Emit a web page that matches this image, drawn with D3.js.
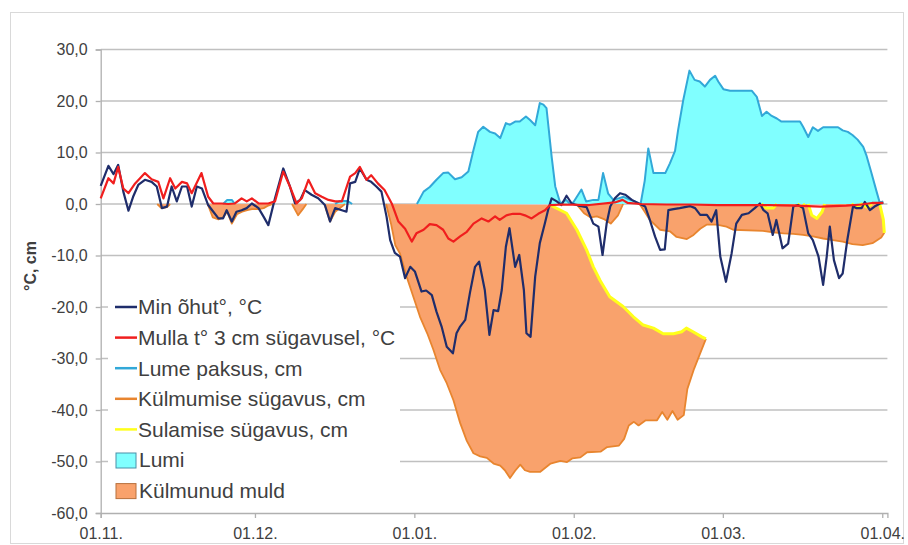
<!DOCTYPE html>
<html>
<head>
<meta charset="utf-8">
<script src="https://cdn.jsdelivr.net/npm/d3@7"></script>
<style>
  body { margin: 0; background: #fff; }
  svg { font-family: "Liberation Sans", Arial, sans-serif; }
</style>
</head>
<body>
<div id="chart"></div>
<script>
// day offsets counted from 01.11. (winter 2011/2012)
const monthTicks = ["2011-11-01", "2011-12-01", "2012-01-01", "2012-02-01", "2012-03-01", "2012-04-01"];
const yTicks = [-60, -50, -40, -30, -20, -10, 0, 10, 20, 30];

const airMin = [[0,3.5],[1.5,7.4],[2.5,5.8],[3.4,7.6],[4.4,2.4],[5.4,-1.3],[6.3,1.4],[7.3,3.7],[8.6,4.7],[9.9,4.3],[10.9,3.4],[11.9,-0.8],[12.9,-0.5],[13.8,3.4],[14.8,0.5],[15.8,3.4],[16.8,3.4],[17.7,-0.5],[18.7,3.4],[19.7,3.0],[20.9,-0.2],[21.9,-1.5],[22.9,-2.8],[23.8,-2.8],[24.5,-1.2],[25.5,-3.4],[26.4,-1.5],[27.4,-1.2],[28.4,-0.8],[29.4,0.1],[30.7,-0.8],[31.7,-2.5],[32.6,-4.1],[33.9,1.1],[35.5,6.9],[36.8,3.4],[37.8,0.1],[38.8,0.8],[39.7,2.7],[41,1.8],[42.3,1.1],[43.6,-0.2],[44.6,-3.4],[45.6,-0.8],[46.9,-1.2],[47.8,-1.5],[48.5,4.0],[49.5,4.3],[50.4,6.9],[51.7,4.7],[52.6,4.3],[53.6,3.4],[54.6,2.4],[55.6,-2.5],[56.3,-7],[57.2,-9.5],[58.2,-10.2],[59.2,-14.4],[60.2,-12.2],[61.1,-13.1],[62.4,-17],[63.3,-16.8],[64.4,-17.7],[65.3,-20.9],[66.3,-23.8],[67.3,-27.7],[68.5,-29],[69.2,-25.1],[69.9,-23.8],[70.9,-22.5],[71.8,-17.3],[72.8,-12.2],[73.6,-11.2],[74.7,-16.7],[75.6,-25.4],[76.4,-20.6],[77.3,-20.8],[78,-16.7],[78.8,-8.3],[79.5,-4.7],[80.6,-12.2],[81.4,-9.9],[82.3,-16.7],[82.8,-25.1],[83.6,-25.8],[84.5,-14.1],[85.4,-7.6],[86.4,-3.7],[87,-1.2],[87.7,1.1],[88.7,0.5],[89.6,-0.2],[90.6,1.6],[91.6,0.1],[92.9,-0.3],[94.5,-0.6],[95.8,-3.8],[96.8,-4.4],[97.6,-9.9],[98.4,-3.8],[99.1,-0.5],[100,1.1],[101,2.1],[102,1.8],[103.3,0.8],[104.6,0.1],[105.9,-0.5],[106.8,-3.1],[107.8,-6.3],[108.8,-8.9],[109.7,-8.8],[110.4,-1.2],[111.4,-1.0],[112.6,-0.8],[114.6,-0.4],[115.6,-0.8],[116.6,-2.1],[117.9,-2.1],[118.8,-3.4],[119.7,-1.2],[120.5,-10.2],[121.6,-15.1],[122.7,-9.6],[123.6,-3.8],[124.7,-2.1],[126,-1.8],[127.2,-0.8],[128.2,0.1],[128.9,-1.2],[129.7,-1.8],[130.7,-6.0],[131.4,-3.1],[132.6,-8.6],[133.7,-7.7],[134.7,-0.5],[135.6,-0.2],[136.6,-0.8],[137.6,-5.7],[138.5,-7.0],[139.6,-10.2],[140.5,-15.7],[141.2,-10.2],[141.8,-4.4],[142.6,-10.9],[143.6,-14.4],[144.3,-13.5],[145.2,-7.0],[146.3,-0.5],[147,-0.8],[148,-0.8],[148.6,0.4],[149.6,-1.2],[150.5,-0.5],[151.6,0.1],[152.2,0.2]];

const soil3cm = [[0,1.1],[1.5,5.0],[2.5,4.0],[3.4,7.2],[4.4,3.0],[5.4,2.1],[6.7,4.0],[8.6,6.0],[9.9,4.8],[11.2,4.3],[12.2,1.1],[13.5,5.0],[14.5,3.0],[15.8,4.3],[16.8,4.0],[17.7,2.1],[19.6,6.0],[20.9,1.4],[21.9,0.1],[23.5,0.1],[24.8,0],[26.1,0.1],[27.4,1.1],[28.4,0.5],[29.4,1.1],[30.7,0.1],[32.6,0.1],[33.9,0.5],[35.5,6.3],[36.8,3.4],[38.1,0.1],[39.1,1.1],[40.4,4.7],[41.7,2.1],[43,1.4],[44.3,0.8],[45.6,0.5],[46.9,0.5],[48.5,5.3],[49.5,6.0],[50.4,7.2],[51.7,4.7],[52.6,5.6],[53.9,4.0],[55.2,2.7],[56.6,0.1],[57.9,-3.4],[59.2,-4.8],[60.5,-7.3],[61.4,-5.7],[62.8,-5.0],[64,-3.9],[65.3,-4.1],[66.6,-5.0],[67.6,-6.7],[68.6,-7.3],[69.9,-6.3],[71.2,-5.4],[72.5,-3.8],[74.1,-2.8],[75.4,-3.4],[76.7,-2.4],[77.6,-3.1],[78.9,-2.2],[80.2,-1.9],[81.5,-1.9],[82.5,-2.2],[83.8,-2.8],[85.1,-1.9],[86.4,-1.2],[87.4,-0.2],[90,-0.1],[95,-0.2],[100,0.3],[101.5,0.8],[102.5,0.2],[105,0],[110,-0.1],[115,-0.1],[120,-0.2],[125,-0.2],[130,-0.2],[135,-0.3],[140,-0.5],[145,-0.3],[148,-0.1],[150,0.2],[152.2,0.2]];

// null = no snow cover
const snowDepth = [[23.8,0],[24.6,0.8],[25.5,0.8],[26.1,0],null,[45.6,0],[46.5,0.6],[48,0.6],[48.9,0],null,[61.5,0],[62.8,2.4],[64,3.3],[65.3,4.7],[66.6,6.0],[67.6,6.1],[68.9,4.8],[70.2,5.2],[71.5,6.3],[72.5,10.5],[73.4,14.0],[74.4,15],[75.7,14.0],[76.7,13.7],[77.7,12.8],[78.8,15.7],[79.6,15.4],[80.6,16.0],[81.5,16],[82.7,17],[83.5,16.3],[84.5,15.3],[85.4,19.6],[86.1,19.3],[86.7,18.6],[87.7,9.2],[88.4,3.4],[89.4,0.1],[90.5,0.8],[91.3,0],[91.9,0.3],[93.5,2.8],[94.4,0.5],[95.8,0.8],[96.8,0.8],[97.7,6.0],[98.7,2.0],[99.7,0.8],[100.7,1.1],[101.7,1.4],[103,0.8],[103.9,0.5],[105,0],[105.8,4.5],[106.5,10.8],[107.5,6.0],[109.8,6.0],[110.7,7.9],[111.7,10.3],[112.3,14.4],[113.3,20.2],[114.5,25.9],[115.5,24.1],[116.5,23.8],[117.5,22.8],[118.5,24.1],[119.5,24.9],[120.1,23.8],[121.1,22.3],[122.4,22],[126.6,22],[127.6,20.8],[128.6,17.1],[129.5,17.9],[130.5,17.1],[131.5,16.6],[132.4,16.0],[136,16],[136.6,15.0],[137.6,13.0],[138.5,14.9],[139.5,14.2],[140.5,14.9],[143.4,14.9],[144.3,14.3],[145.3,14.0],[146.2,13.4],[147.2,12.5],[148.3,11.1],[148.9,9.5],[149.9,6.0],[150.9,2.4],[151.5,0.3],[152.2,0.5]];

// frost depth, short early episodes (thaw depth 0)
const frostEarly = [[11,0],[11.8,-0.8],[12.9,-0.6],[13.5,0],null,[20.8,0],[21.8,-2.6],[22.9,-3.0],[23.8,-2.6],[24.6,-1.5],[25.5,-3.8],[26.5,-2.0],[27.5,-1.5],[28.5,-1.2],[29.4,-1.0],[30.7,-1.0],[31.7,-0.8],[32.6,-0.3],[33.5,0],null,[37.2,0],[38.4,-2.2],[39.3,-1.0],[40,0],null,[43.5,0],[44.6,-3.4],[45.6,-1.5],[46.9,-0.5],[47.5,0]];

// main frozen layer: frost depth and thaw depth from the surface
const frostDeep = [[55.5,0],[56.5,-4],[57.3,-8],[58.2,-9.6],[59.5,-14.1],[60.8,-18],[62.1,-21.9],[63.5,-25.1],[64.7,-28.3],[66,-32.2],[67.3,-34.8],[68.6,-38.1],[69.9,-42.5],[71.2,-46],[72.5,-48.4],[73.8,-49],[75.1,-49.3],[76.4,-50.4],[77.7,-50.8],[78.6,-51.7],[79.6,-53.2],[80.6,-51.8],[81.6,-50.6],[82.5,-51.7],[83.5,-52],[85.5,-52],[87.5,-50.4],[89.4,-49.9],[90.7,-50.1],[91.7,-49.4],[93.3,-49.2],[94.6,-48.2],[97.2,-48.1],[98.5,-47.2],[100.8,-46.9],[101.8,-45.6],[102.7,-43],[103.7,-42.3],[104.6,-43],[106,-42],[108.2,-42],[109.2,-40.4],[110.2,-41.9],[111.2,-40.2],[112.2,-41.9],[113.4,-41],[114.1,-35.9],[115.4,-32],[116.7,-28.7],[117.7,-26.2]];
const thawDeep = [[87.4,-0.2],[90.6,-1.8],[92.6,-5],[94.5,-8.9],[95.8,-12.2],[97.1,-14.8],[99,-18],[101.6,-19.9],[103.6,-21.9],[105.5,-23.5],[107.5,-24.1],[109.4,-25.2],[111.4,-25.2],[113,-24.8],[113.9,-24.1],[115.2,-24.8],[116.9,-25.8],[117.7,-26.2]];

// refrozen surface layer in February and March
const frostFeb = [[92.5,0],[94,-1.8],[95.3,-2.6],[96.5,-2.4],[98,-3.0],[99.2,-3.8],[100.6,-2.2],[101.6,0]];
const frostMar = [[104.8,0],[105.8,-1.5],[106.8,-3.1],[108.8,-5.0],[110.7,-5.3],[112,-6.4],[114,-6.8],[115.3,-6.0],[116.6,-4.8],[117.9,-4.0],[119.8,-4.0],[121.7,-4.4],[123,-5.0],[128.8,-5.2],[130.8,-5.5],[132.8,-5.7],[134.7,-5.8],[136.6,-6.0],[138.5,-6.3],[140.5,-6.7],[142.4,-7.0],[144.3,-7.3],[146.2,-7.8],[148.2,-8.0],[150.1,-7.6],[151.8,-6.5],[152.4,-5.6]];
const thawMar = [[128.5,0],[129.5,-0.8],[130.8,-0.8],[131.5,0],null,[135.5,0],[136.3,-0.6],[137,0],null,[137.6,0],[138.3,-2.2],[139.3,-2.8],[140.3,-1.5],[140.8,0],null,[146,0],[147,-0.5],[148,0],[149,-0.6],[150,0],null,[151.5,0],[152.2,-3],[152.4,-5.6]];

const legendItems = [
  {label: "Min õhut°, °C", type: "line", color: "#1f2d6b"},
  {label: "Mulla t° 3 cm sügavusel, °C", type: "line", color: "#f01e1e"},
  {label: "Lume paksus, cm", type: "line", color: "#32a8d8"},
  {label: "Külmumise sügavus, cm", type: "line", color: "#e8852f"},
  {label: "Sulamise sügavus, cm", type: "line", color: "#ffff1a"},
  {label: "Lumi", type: "box", color: "#80ffff", stroke: "#4a90a8"},
  {label: "Külmunud muld", type: "box", color: "#f9a26c", stroke: "#b8703c"}
];

const width = 908, height = 545;
const start = Date.UTC(2011, 10, 1);
const toDate = d => new Date(start + d * 864e5);

const svg = d3.select("#chart").append("svg")
  .attr("width", width)
  .attr("height", height);

// outer frame
svg.append("rect")
  .attr("x", 10.5).attr("y", 12.5)
  .attr("width", 893).attr("height", 531)
  .attr("fill", "#fff")
  .attr("stroke", "#d9d9d9");

const x = d3.scaleUtc()
  .domain([new Date(Date.UTC(2011, 10, 1)), new Date(Date.UTC(2012, 3, 2))])
  .range([100.7, 887.4]);
const y = d3.scaleLinear().domain([-60, 30]).range([513, 49.5]);

// grid
svg.append("g").selectAll("line")
  .data(yTicks.filter(d => d > -60))
  .enter().append("line")
  .attr("x1", x.range()[0]).attr("x2", x.range()[1])
  .attr("y1", d => y(d)).attr("y2", d => y(d))
  .attr("stroke", "#c0c0c0").attr("stroke-width", 1.3);

// axes
const yAxis = svg.append("g")
  .attr("transform", "translate(" + x.range()[0] + ",0)")
  .call(d3.axisLeft(y).tickValues(yTicks).tickSize(5).tickPadding(8)
    .tickFormat(d => d.toFixed(1).replace(".", ",")));
const xAxis = svg.append("g")
  .attr("transform", "translate(0," + y(-60) + ")")
  .call(d3.axisBottom(x).tickValues(monthTicks.map(d => new Date(d + "T00:00:00Z")))
    .tickSize(5).tickPadding(10).tickFormat(d3.utcFormat("%d.%m.")));
[yAxis, xAxis].forEach(g => {
  g.select(".domain").attr("stroke", "#b0b0b0").attr("stroke-width", 1.3);
  g.selectAll(".tick line").attr("stroke", "#b0b0b0").attr("stroke-width", 1.3);
  g.selectAll("text").attr("fill", "#404040").style("font-size", "16px")
    .style("font-family", "'Liberation Sans', Arial, sans-serif");
});

svg.append("text")
  .attr("transform", "translate(36,266) rotate(-90)")
  .attr("text-anchor", "middle")
  .attr("fill", "#404040")
  .style("font-size", "16px").style("font-weight", "bold")
  .text("°C, cm");

const line = d3.line()
  .defined(d => d !== null)
  .x(d => x(toDate(d[0])))
  .y(d => y(d[1]));
const area0 = d3.area()
  .defined(d => d !== null)
  .x(d => x(toDate(d[0])))
  .y0(y(0))
  .y1(d => y(d[1]));
const polygon = (top, bottom) => line(top.concat(bottom.slice().reverse())) + "Z";

// areas
svg.append("path").attr("d", area0(snowDepth)).attr("fill", "#80ffff");
svg.append("path").attr("d", area0(frostEarly)).attr("fill", "#f9a26c");
svg.append("path").attr("d", polygon([[55.5, 0]].concat(thawDeep), frostDeep)).attr("fill", "#f9a26c");
svg.append("path").attr("d", polygon([[92.5, 0], [101.6, 0]], frostFeb)).attr("fill", "#f9a26c");
svg.append("path").attr("d", polygon([[104.8, 0]].concat(thawMar.filter(d => d !== null)), frostMar)).attr("fill", "#f9a26c");

// frost and thaw lines
[frostEarly, frostDeep, frostFeb, frostMar].forEach(s => {
  svg.append("path").attr("d", line(s)).attr("fill", "none")
    .attr("stroke", "#e8852f").attr("stroke-width", 1.8).attr("stroke-linejoin", "round");
});
[thawDeep, thawMar].forEach(s => {
  svg.append("path").attr("d", line(s)).attr("fill", "none")
    .attr("stroke", "#ffff1a").attr("stroke-width", 3).attr("stroke-linejoin", "round");
});

svg.append("path").attr("d", line(snowDepth)).attr("fill", "none")
  .attr("stroke", "#32a8d8").attr("stroke-width", 2).attr("stroke-linejoin", "round");
svg.append("path").attr("d", line(airMin)).attr("fill", "none")
  .attr("stroke", "#1f2d6b").attr("stroke-width", 2.2).attr("stroke-linejoin", "round");
svg.append("path").attr("d", line(soil3cm)).attr("fill", "none")
  .attr("stroke", "#f01e1e").attr("stroke-width", 2.2).attr("stroke-linejoin", "round");

// legend
const legend = svg.append("g").attr("transform", "translate(108,292)");
legend.append("rect").attr("width", 292).attr("height", 212).attr("fill", "#fff");
const item = legend.selectAll("g.item").data(legendItems).enter().append("g")
  .attr("class", "item")
  .attr("transform", (d, i) => "translate(0," + (15 + i * 30.6) + ")");
item.filter(d => d.type === "line").append("line")
  .attr("x1", 7).attr("x2", 29).attr("y1", 0).attr("y2", 0)
  .attr("stroke", d => d.color).attr("stroke-width", 2.5);
item.filter(d => d.type === "box").append("rect")
  .attr("x", 8).attr("y", -7).attr("width", 20).attr("height", 15)
  .attr("fill", d => d.color).attr("stroke", d => d.stroke);
item.append("text")
  .attr("x", d => d.type === "line" ? 30 : 31)
  .attr("y", 0).attr("dy", "0.35em")
  .attr("fill", "#404040")
  .style("font-size", "21px")
  .text(d => d.label);
</script>
</body>
</html>
